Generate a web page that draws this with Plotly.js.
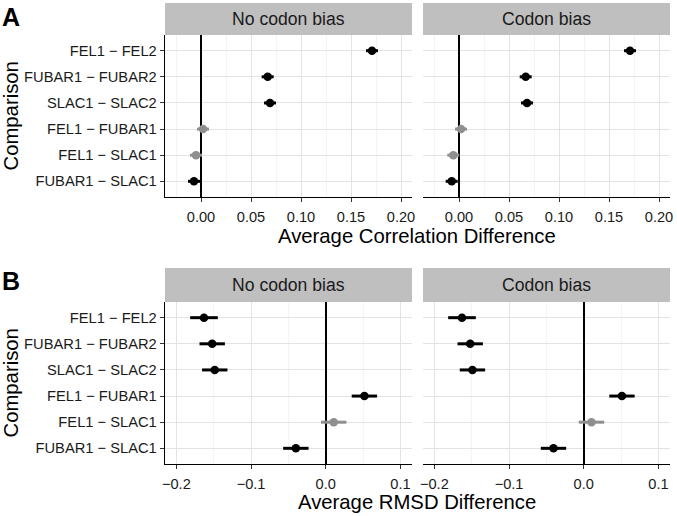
<!DOCTYPE html>
<html>
<head>
<meta charset="utf-8">
<script src="https://cdn.plot.ly/plotly-3.0.1.min.js"></script>
<style>html,body{margin:0;padding:0;background:#fff;} #chart{width:677px;height:516px;}</style>
</head>
<body>
<div id="chart"></div>
<script>
// ---- data ----
const categories = ["FEL1 − FEL2", "FUBAR1 − FUBAR2", "SLAC1 − SLAC2", "FEL1 − FUBAR1", "FEL1 − SLAC1", "FUBAR1 − SLAC1"];
const facets = ["No codon bias", "Codon bias"];

const corrNoBias    = [0.171, 0.0667, 0.069, 0.002, -0.005, -0.007];
const corrNoBiasErr = [0.006, 0.006, 0.006, 0.006, 0.006, 0.006];
const corrBias      = [0.171, 0.0667, 0.068, 0.002, -0.0057, -0.0073];
const corrBiasErr   = [0.006, 0.006, 0.006, 0.006, 0.006, 0.006];
const corrSignif    = [true, true, true, false, false, true];

const rmsdNoBias    = [-0.163, -0.152, -0.1486, 0.0518, 0.0107, -0.040];
const rmsdNoBiasErr = [0.0185, 0.017, 0.017, 0.017, 0.017, 0.017];
const rmsdBias      = [-0.163, -0.152, -0.149, 0.0512, 0.0104, -0.0405];
const rmsdBiasErr   = [0.0185, 0.017, 0.017, 0.017, 0.017, 0.017];
const rmsdSignif    = [true, true, true, true, false, true];

const xTitleA = "Average Correlation Difference";
const xTitleB = "Average RMSD Difference";
const yTitle = "Comparison";

// ---- styling ----
const FONT = "'Liberation Sans', Arial, Helvetica, sans-serif";
const SIG = "#000000", NONSIG = "#8f8f8f";
const W = 677, H = 516;
const px = v => v / W;
const py = v => 1 - v / H;

function panelTraces(vals, errs, signif, xa, ya) {
  const out = [];
  [[true, SIG], [false, NONSIG]].forEach(([flag, col]) => {
    const idx = vals.map((v, i) => i).filter(i => signif[i] === flag);
    out.push({
      type: "scatter", mode: "markers",
      x: idx.map(i => vals[i]), y: idx.map(i => categories[i]),
      xaxis: xa, yaxis: ya,
      marker: {color: col, size: 8.5},
      error_x: {type: "data", array: idx.map(i => errs[i]), visible: true, color: col, thickness: 3, width: 0},
      showlegend: false, hoverinfo: "x+y"
    });
  });
  return out;
}

const data = [].concat(
  panelTraces(corrNoBias, corrNoBiasErr, corrSignif, "x", "y"),
  panelTraces(corrBias, corrBiasErr, corrSignif, "x2", "y2"),
  panelTraces(rmsdNoBias, rmsdNoBiasErr, rmsdSignif, "x3", "y3"),
  panelTraces(rmsdBias, rmsdBiasErr, rmsdSignif, "x4", "y4")
);

const colL = [px(165), px(412)], colR = [px(423), px(670)];
const rowA = [py(197), py(35)], rowB = [py(464), py(302)];
const catOrder = categories.slice().reverse();

function xax(domain, anchor, range, dtick, fmt) {
  return {
    domain: domain, anchor: anchor, range: range, tick0: 0, dtick: dtick, tickformat: fmt,
    showgrid: true, gridcolor: "#e3e3e3", gridwidth: 1,
    minor: {dtick: dtick / 2, tick0: 0, showgrid: true, gridcolor: "#f0f0f0", gridwidth: 0.7},
    zeroline: true, zerolinecolor: "#000", zerolinewidth: 1.6,
    showline: true, linecolor: "#000", linewidth: 1.3,
    ticks: "outside", ticklen: 4, tickcolor: "#333", tickwidth: 1,
    ticklabelstandoff: 2,
    tickfont: {family: FONT, size: 14.6, color: "#1a1a1a"}, fixedrange: true
  };
}
function yax(domain, anchor, left) {
  return {
    domain: domain, anchor: anchor, type: "category",
    categoryorder: "array", categoryarray: catOrder, range: [-0.6, 5.6],
    showgrid: true, gridcolor: "#e3e3e3", gridwidth: 1, zeroline: false,
    showline: left, linecolor: "#000", linewidth: 1.3,
    ticks: left ? "outside" : "", ticklen: 4, tickcolor: "#333",
    showticklabels: left,
    tickfont: {family: FONT, size: 14.7, color: "#1a1a1a"}, fixedrange: true
  };
}

const rangeA = [-0.036, 0.211], rangeB = [-0.2152, 0.1155];

const shapes = [], annotations = [];
[[rowA, 3, 35], [rowB, 268, 302]].forEach(([row, t, b]) => {
  [colL, colR].forEach((col, k) => {
    shapes.push({type: "rect", xref: "paper", yref: "paper", x0: col[0], x1: col[1], y0: py(b), y1: py(t),
      fillcolor: "#bfbfbf", line: {width: 0}, layer: "below"});
    annotations.push({xref: "paper", yref: "paper", x: (col[0] + col[1]) / 2, y: py((t + b) / 2),
      text: facets[k], showarrow: false, xanchor: "center", yanchor: "middle",
      font: {family: FONT, size: 17.6, color: "#1a1a1a"}});
  });
});
annotations.push({xref: "paper", yref: "paper", x: px(417.5), y: py(236), text: xTitleA, showarrow: false,
  xanchor: "center", yanchor: "middle", font: {family: FONT, size: 20.3, color: "#000"}});
annotations.push({xref: "paper", yref: "paper", x: px(417.5), y: py(502), text: xTitleB, showarrow: false,
  xanchor: "center", yanchor: "middle", font: {family: FONT, size: 20.3, color: "#000"}});
annotations.push({xref: "paper", yref: "paper", x: px(10.5), y: py(116), text: yTitle, showarrow: false, textangle: -90,
  xanchor: "center", yanchor: "middle", font: {family: FONT, size: 20.3, color: "#000"}});
annotations.push({xref: "paper", yref: "paper", x: px(10.5), y: py(383), text: yTitle, showarrow: false, textangle: -90,
  xanchor: "center", yanchor: "middle", font: {family: FONT, size: 20.3, color: "#000"}});
annotations.push({xref: "paper", yref: "paper", x: px(0), y: py(1), text: "<b>A</b>", showarrow: false,
  xanchor: "left", yanchor: "top", font: {family: FONT, size: 25, color: "#000"}});
annotations.push({xref: "paper", yref: "paper", x: px(0), y: py(265), text: "<b>B</b>", showarrow: false,
  xanchor: "left", yanchor: "top", font: {family: FONT, size: 25, color: "#000"}});

const layout = {
  width: W, height: H, margin: {l: 0, r: 0, t: 0, b: 0},
  paper_bgcolor: "#fff", plot_bgcolor: "#fff", showlegend: false,
  font: {family: FONT},
  xaxis: xax(colL, "y", rangeA, 0.05, ".2f"),
  xaxis2: xax(colR, "y2", rangeA, 0.05, ".2f"),
  xaxis3: xax(colL, "y3", rangeB, 0.1, ".1f"),
  xaxis4: xax(colR, "y4", rangeB, 0.1, ".1f"),
  yaxis: yax(rowA, "x", true),
  yaxis2: yax(rowA, "x2", false),
  yaxis3: yax(rowB, "x3", true),
  yaxis4: yax(rowB, "x4", false),
  shapes: shapes, annotations: annotations
};

Plotly.newPlot("chart", data, layout, {staticPlot: true, displayModeBar: false});
</script>
</body>
</html>
